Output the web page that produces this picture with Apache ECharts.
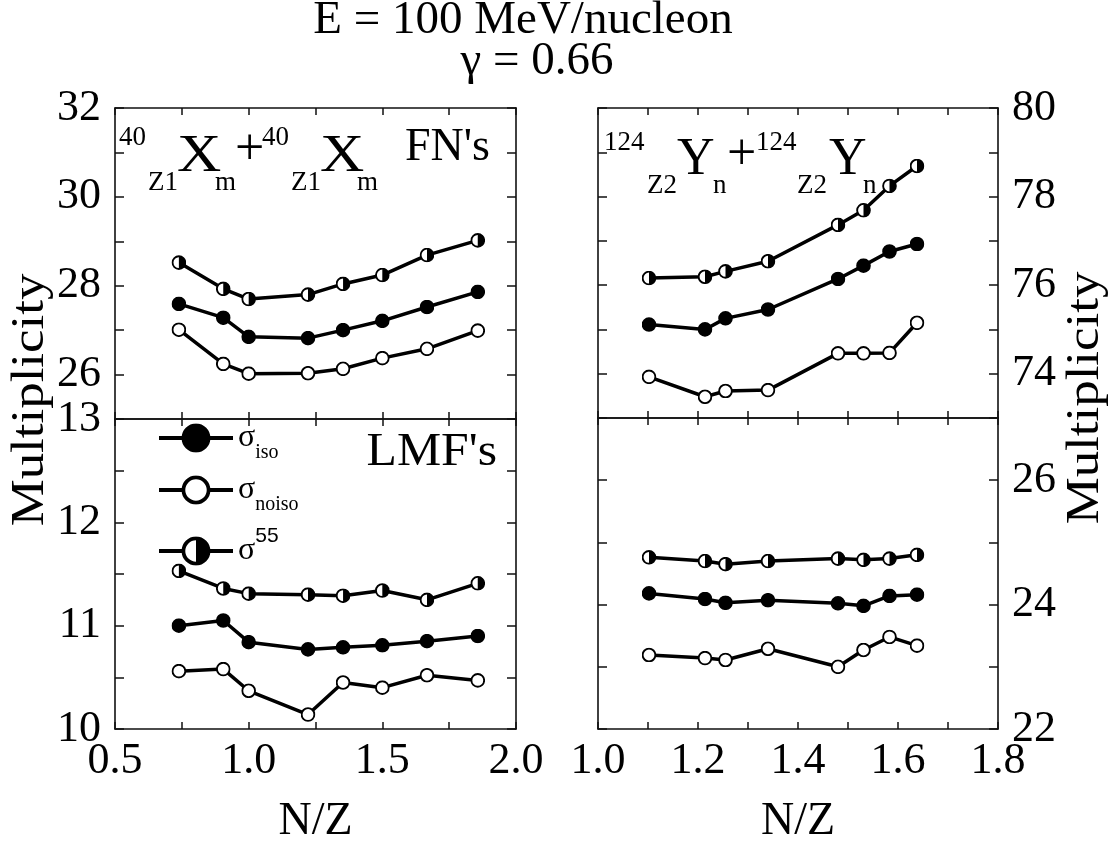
<!DOCTYPE html>
<html><head><meta charset="utf-8">
<script src="https://cdn.jsdelivr.net/npm/echarts@6/dist/echarts.min.js"></script>
<style>html,body{margin:0;padding:0;background:#fff}#c{width:1114px;height:846px}</style>
</head><body><div id="c"></div>
<script>
// ---- data ----
const xLeft  = [0.739, 0.905, 1.0, 1.222, 1.353, 1.5, 1.667, 1.857];   // N/Z for 40X
const xRight = [1.102, 1.214, 1.255, 1.340, 1.480, 1.531, 1.583, 1.638]; // N/Z for 124Y

const fnIsoL   = [27.59, 27.28, 26.85, 26.82, 27.00, 27.21, 27.52, 27.86];
const fnNoisoL = [27.01, 26.24, 26.02, 26.03, 26.13, 26.37, 26.58, 26.99];
const fn55L    = [28.52, 27.93, 27.70, 27.80, 28.04, 28.24, 28.69, 29.02];

const lmfIsoL   = [11.00, 11.05, 10.84, 10.77, 10.79, 10.81, 10.85, 10.90];
const lmfNoisoL = [10.56, 10.58, 10.37, 10.14, 10.45, 10.40, 10.52, 10.47];
const lmf55L    = [11.53, 11.36, 11.31, 11.30, 11.29, 11.34, 11.25, 11.41];

const fnIsoR   = [75.11, 75.00, 75.25, 75.45, 76.14, 76.44, 76.76, 76.93];
const fnNoisoR = [73.93, 73.48, 73.61, 73.63, 74.46, 74.46, 74.47, 75.15];
const fn55R    = [76.16, 76.19, 76.31, 76.54, 77.36, 77.69, 78.24, 78.69];

const lmfIsoR   = [24.18, 24.09, 24.03, 24.07, 24.02, 23.98, 24.14, 24.16];
const lmfNoisoR = [23.19, 23.14, 23.11, 23.29, 23.00, 23.27, 23.48, 23.34];
const lmf55R    = [24.76, 24.70, 24.65, 24.70, 24.74, 24.72, 24.74, 24.80];

const seriesNames = ['σiso', 'σnoiso', 'σ55'];
const titleLines = ['E = 100 MeV/nucleon', 'γ = 0.66'];
const yName = 'Multiplicity';
const xName = 'N/Z';

// ---- rendering ----
const FONT = 'Liberation Serif';
const chart = echarts.init(document.getElementById('c'), null, {renderer: 'canvas'});

function sym(kind) {
  let inner;
  if (kind === 'full') inner = '<circle cx="20" cy="20" r="17" fill="#000" stroke="#000" stroke-width="5"/>';
  else if (kind === 'open') inner = '<circle cx="20" cy="20" r="17" fill="#fff" stroke="#000" stroke-width="5"/>';
  else inner = '<circle cx="20" cy="20" r="17" fill="#fff" stroke="#000" stroke-width="5"/><path d="M20 3 A17 17 0 0 1 20 37 Z" fill="#000"/>';
  const svg = '<svg xmlns="http://www.w3.org/2000/svg" width="40" height="40" viewBox="0 0 40 40">' + inner + '</svg>';
  return 'image://data:image/svg+xml;charset=utf-8,' + encodeURIComponent(svg);
}
const kinds = ['full', 'open', 'half'];

const grids = [
  {left: 115, width: 401, top: 108, height: 311},
  {left: 115, width: 401, top: 419, height: 310},
  {left: 598, width: 400, top: 108, height: 310},
  {left: 598, width: 400, top: 418, height: 311}
];

const axLine = {show: true, onZero: false, lineStyle: {color: '#111', width: 1.6}};
function tick(len) { return {show: true, inside: true, length: len, lineStyle: {color: '#111', width: 1.5}}; }
const lblBase = {color: '#000', fontFamily: FONT, fontSize: 44};

function xAx(g, pos, min, max, interval, fmt) {
  const o = {type: 'value', gridIndex: g, position: pos, min, max, interval,
    splitLine: {show: false}, axisLine: axLine, axisTick: tick(7),
    axisLabel: fmt ? Object.assign({show: true, margin: 10, formatter: fmt}, lblBase) : {show: false}};
  if (fmt) {
    o.name = xName; o.nameLocation = 'middle'; o.nameGap = 70;
    o.nameTextStyle = {color: '#000', fontFamily: FONT, fontSize: 46};
  }
  return o;
}
function yAx(g, pos, min, max, interval, fmt) {
  return {type: 'value', gridIndex: g, position: pos, min, max, interval,
    splitLine: {show: false}, axisLine: axLine, axisTick: tick(9),
    axisLabel: fmt ? Object.assign({show: true, margin: 14, formatter: fmt}, lblBase) : {show: false}};
}
const fmtXL = v => (Math.abs(v * 2 - Math.round(v * 2)) < 1e-6) ? v.toFixed(1) : '';
const fmtXR = v => (Math.round(v * 10) % 2 === 0) ? v.toFixed(1) : '';
const evenFrom = lo => v => (Math.round(v) === v && v % 2 === 0 && v >= lo) ? String(v) : '';
const intOnly = v => (Math.round(v) === v) ? String(v) : '';

const xAxis = [
  xAx(0, 'bottom', 0.5, 2.0, 0.25, null), xAx(0, 'top', 0.5, 2.0, 0.25, null),
  xAx(1, 'bottom', 0.5, 2.0, 0.25, fmtXL), xAx(1, 'top', 0.5, 2.0, 0.25, null),
  xAx(2, 'bottom', 1.0, 1.8, 0.1, null), xAx(2, 'top', 1.0, 1.8, 0.1, null),
  xAx(3, 'bottom', 1.0, 1.8, 0.1, fmtXR), xAx(3, 'top', 1.0, 1.8, 0.1, null)
];
const yAxis = [
  yAx(0, 'left', 25, 32, 1, evenFrom(26)), yAx(0, 'right', 25, 32, 1, null),
  yAx(1, 'left', 10, 13, 0.5, intOnly), yAx(1, 'right', 10, 13, 0.5, null),
  yAx(2, 'right', 73, 80, 1, evenFrom(74)), yAx(2, 'left', 73, 80, 1, null),
  yAx(3, 'right', 22, 27, 1, evenFrom(22)), yAx(3, 'left', 22, 27, 1, null)
];

const panels = [
  {g: 0, xs: xLeft, sets: [fnIsoL, fnNoisoL, fn55L]},
  {g: 1, xs: xLeft, sets: [lmfIsoL, lmfNoisoL, lmf55L]},
  {g: 2, xs: xRight, sets: [fnIsoR, fnNoisoR, fn55R]},
  {g: 3, xs: xRight, sets: [lmfIsoR, lmfNoisoR, lmf55R]}
];
const series = [];
panels.forEach(p => {
  p.sets.forEach((ys, k) => {
    series.push({
      type: 'line', name: seriesNames[k], xAxisIndex: 2 * p.g, yAxisIndex: 2 * p.g,
      data: p.xs.map((x, i) => [x, ys[i]]),
      symbol: sym(kinds[k]), symbolSize: 15, showSymbol: true,
      lineStyle: {color: '#000', width: 3.5}, itemStyle: {color: '#000'},
      emphasis: {disabled: true}, animation: false
    });
  });
});

function txt(text, x, y, size, opts) {
  return Object.assign({type: 'text', x: x, y: y, silent: true,
    style: Object.assign({text: text, fill: '#000', font: size + 'px "' + FONT + '"',
      textAlign: 'left', textVerticalAlign: 'middle'}, (opts && opts.style) || {})},
    opts && opts.el || {});
}
// place text by baseline (approx. middle = baseline - 0.3375*size)
function tb(text, x, base, size, style, el) {
  return txt(text, x, base - 0.3375 * size, size, {style: style, el: el});
}
const S = 27, B = 52;
const wide = {scaleX: 1.18};
const graphic = [
  tb(titleLines[0], 523, 37, 47, {textAlign: 'center'}),
  tb(titleLines[1], 537, 78, 47, {textAlign: 'center'}),
  txt(yName, 31, 400, 46, {style: {textAlign: 'center'}, el: {rotation: Math.PI / 2, scaleX: 1.15}}),
  txt(yName, 1086, 398, 46, {style: {textAlign: 'center'}, el: {rotation: Math.PI / 2, scaleX: 1.15}}),
  tb("FN's", 490, 163, 46, {textAlign: 'right'}),
  tb("LMF's", 497, 468, 46, {textAlign: 'right'}, {scaleX: 1.08}),
  // 40Z1Xm + 40Z1Xm
  tb('40', 119, 147, S), tb('Z1', 148, 192, S), tb('X', 177, 175, B, null, wide), tb('m', 215, 192, S),
  tb('+', 235, 168, B),
  tb('40', 262, 147, S), tb('Z1', 291, 192, S), tb('X', 320, 175, B, null, wide), tb('m', 357, 192, S),
  // 124Z2Yn + 124Z2Yn
  tb('124', 604, 152, S), tb('Z2', 647, 195, S), tb('Y', 677, 178, B), tb('n', 713, 195, S),
  tb('+', 727, 173, B),
  tb('124', 756, 152, S), tb('Z2', 797, 195, S), tb('Y', 829, 178, B), tb('n', 863, 195, S)
];

const legendFmt = {'σiso': '{s|σ}{b|iso}', 'σnoiso': '{s|σ}{b|noiso}', 'σ55': '{s|σ}{p|55}'};

chart.setOption({
  animation: false,
  backgroundColor: '#fff',
  grid: grids,
  xAxis: xAxis,
  yAxis: yAxis,
  legend: {
    data: seriesNames, orient: 'vertical', left: 157, top: 422, padding: 0,
    itemWidth: 74, itemHeight: 37, itemGap: 11, selectedMode: false,
    lineStyle: {width: 4, color: '#000'},
    formatter: n => legendFmt[n],
    textStyle: {color: '#000', rich: {
      s: {fontFamily: FONT, fontSize: 32, lineHeight: 50, verticalAlign: 'middle', color: '#000'},
      b: {fontFamily: FONT, fontSize: 20, lineHeight: 20, verticalAlign: 'bottom', color: '#000'},
      p: {fontFamily: 'Liberation Sans', fontSize: 21, lineHeight: 22, verticalAlign: 'top', color: '#000'}
    }}
  },
  series: series,
  graphic: graphic
});
</script>
</body></html>
